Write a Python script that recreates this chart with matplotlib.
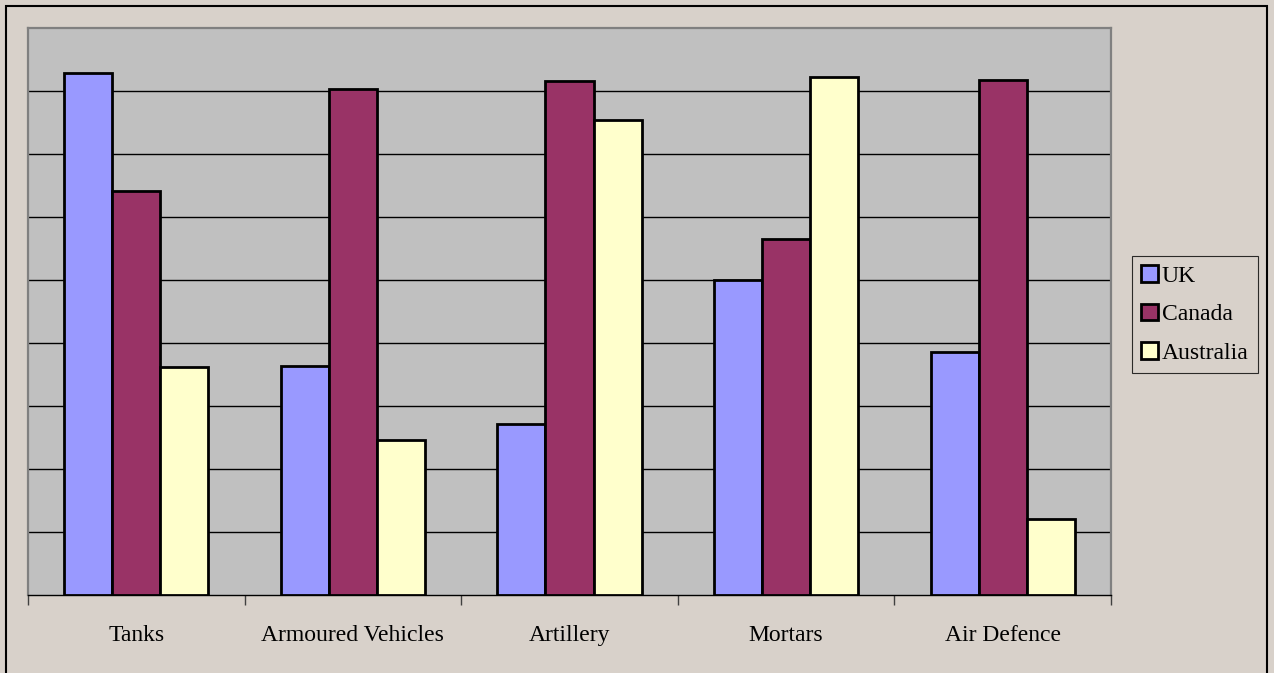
import matplotlib
matplotlib.use("Agg")
import matplotlib.pyplot as plt
import matplotlib.patches as mpatches
import numpy as np

categories = ["Tanks", "Armoured Vehicles", "Artillery", "Mortars", "Air Defence"]
series_names = ["UK", "Canada", "Australia"]
uk = [8.29, 3.63, 2.71, 5.00, 3.86]
canada = [6.41, 8.03, 8.16, 5.65, 8.17]
australia = [3.62, 2.46, 7.54, 8.22, 1.21]
colors = ["#9999FF", "#993366", "#FFFFCC"]

plt.rcParams['font.family'] = ['Liberation Serif', 'DejaVu Serif']

fig = plt.figure(figsize=(12.74, 6.73), dpi=100)
bg = "#D8D1CA"
fig.patch.set_facecolor(bg)
ax = fig.add_axes([28/1274, 1-595/673, (1111-28)/1274, (595-28)/673])
ax.set_facecolor("#C0C0C0")

n = len(categories)
x = np.arange(n)
w = 0.222
for i, (vals, c, name) in enumerate(zip([uk, canada, australia], colors, series_names)):
    ax.bar(x + (i - 1) * w, vals, width=w, color=c, edgecolor="black", linewidth=2.0,
           label=name, zorder=3)

ax.set_xlim(-0.5, n - 0.5)
ax.set_ylim(0, 9)
ax.set_yticks(np.arange(1, 9))
ax.yaxis.grid(True, color="black", linewidth=1.0, zorder=1)
ax.set_axisbelow(True)
ax.tick_params(axis="y", left=False, labelleft=False)

ax.set_xticks(np.arange(-0.5, n, 1.0))
ax.set_xticklabels([])
ax.set_xticks(x, minor=True)
ax.set_xticklabels(categories, minor=True, fontsize=17)
ax.tick_params(axis="x", which="major", length=7, width=1, color="#404040", direction="out")
ax.tick_params(axis="x", which="minor", length=0, pad=21.5)

for s in ["left", "top", "right"]:
    ax.spines[s].set_color("#808080")
    ax.spines[s].set_linewidth(1.6)
ax.spines["bottom"].set_color("black")
ax.spines["bottom"].set_linewidth(1.0)

handles = [mpatches.Patch(facecolor=c, edgecolor="black", linewidth=2.0, label=nm)
           for c, nm in zip(colors, series_names)]
leg = fig.legend(handles=handles, loc="upper left",
                 bbox_to_anchor=(1132/1274, 1-256/673), frameon=True, fontsize=17,
                 handlelength=0.7, handleheight=0.7, handletextpad=0.15,
                 borderpad=0.4, labelspacing=0.72, borderaxespad=0, fancybox=False)
leg.get_frame().set_edgecolor("black")
leg.get_frame().set_facecolor(bg)
leg.get_frame().set_linewidth(0.8)

border = mpatches.Rectangle((6/1274, -0.01), (1267-6)/1274, 1.01 - 6/673, transform=fig.transFigure,
                            fill=False, edgecolor="black", linewidth=1.5, clip_on=False)
fig.patches.append(border)

fig.savefig("out.png", dpi=100, facecolor=bg)
